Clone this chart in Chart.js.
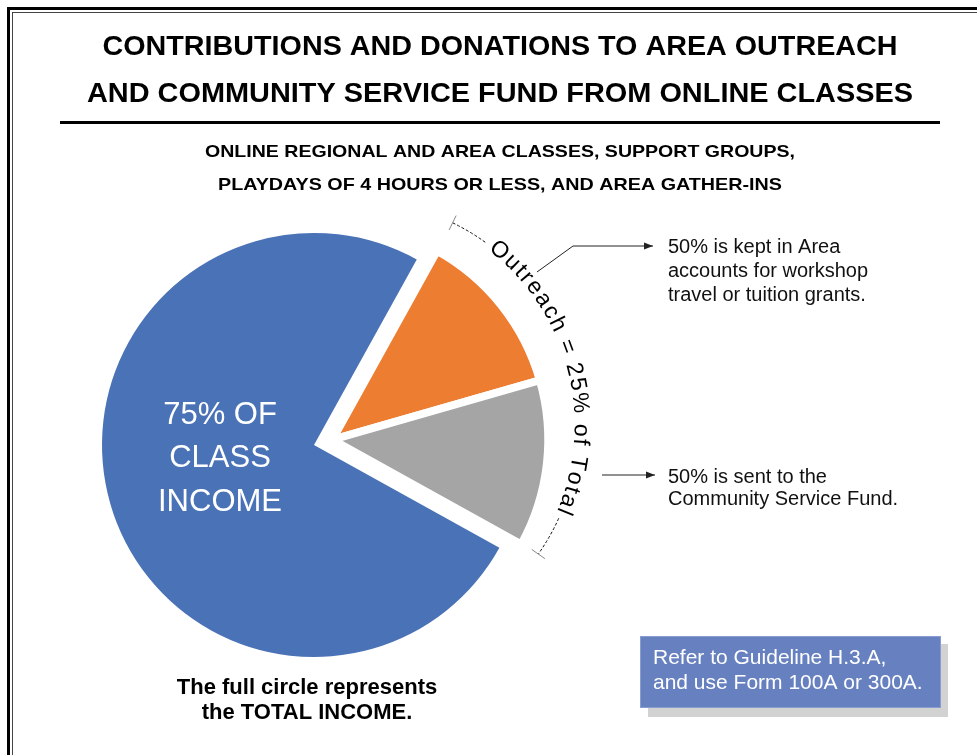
<!DOCTYPE html>
<html>
<head>
<meta charset="utf-8">
<title>Contributions and Donations from Online Classes</title>
<script src="https://cdn.jsdelivr.net/npm/chart.js@4.4.1/dist/chart.umd.min.js"></script>
<style>
  html, body { margin: 0; padding: 0; background: #fff; }
  #wrap { position: relative; width: 977px; height: 755px; }
</style>
</head>
<body>
<div id="wrap"><canvas id="pieChart" width="977" height="755"></canvas></div>
<script>
// slices, clockwise starting at the top edge of the class income slice
const sliceLabels = ['Outreach: kept in Area', 'Outreach: Community Service Fund', 'Class income'];
const sliceValues = [12.5, 12.5, 75];
const sliceColors = ['#ed7d31', '#a5a5a5', '#4a72b6'];
const explodedSlices = [0, 1];

const titleLines = [
    'CONTRIBUTIONS AND DONATIONS TO AREA OUTREACH',
    'AND COMMUNITY SERVICE FUND FROM ONLINE CLASSES'
];
const subtitleLines = [
    'ONLINE REGIONAL AND AREA CLASSES, SUPPORT GROUPS,',
    'PLAYDAYS OF 4 HOURS OR LESS, AND AREA GATHER-INS'
];
const incomeLabel = ['75% OF', 'CLASS', 'INCOME'];
const outreachText = 'Outreach = 25% of Total';
const keptNote = ['50% is kept in Area', 'accounts for workshop', 'travel or tuition grants.'];
const sentNote = ['50% is sent to the', 'Community Service Fund.'];
const footNote = ['The full circle represents', 'the TOTAL INCOME.'];
const boxNote = ['Refer to Guideline H.3.A,', 'and use Form 100A or 300A.'];

const FONT = '"Liberation Sans", Arial, Helvetica, sans-serif';
const EXPLODE = 19;     // px the outreach slices are pulled out
const GAP_BORDER = 8;   // white edge round the outreach slices

// text helper, optionally stretched to a given width
function drawText(ctx, text, x, y, font, color, align, width) {
    ctx.save();
    ctx.font = font;
    ctx.fillStyle = color;
    ctx.textBaseline = 'middle';
    if (width) {
        const w = ctx.measureText(text).width;
        ctx.translate(x, y);
        ctx.scale(width / w, 1);
        ctx.textAlign = 'center';
        ctx.fillText(text, 0, 0);
    } else {
        ctx.textAlign = align || 'center';
        ctx.fillText(text, x, y);
    }
    ctx.restore();
}

// degrees clockwise from top -> canvas radians
function rad(deg) {
    return (deg - 90) * Math.PI / 180;
}

function drawArcText(ctx, text, cx, cy, r, a0, a1) {
    ctx.save();
    ctx.font = '23px ' + FONT;
    ctx.fillStyle = '#000';
    ctx.textAlign = 'center';
    ctx.textBaseline = 'middle';
    const chars = [...text];
    const widths = chars.map(ch => ctx.measureText(ch).width);
    const total = widths.reduce((s, w) => s + w, 0);
    const arcLen = (a1 - a0) * Math.PI / 180 * r;
    const gap = (arcLen - total) / (chars.length - 1);
    let pos = a0 * Math.PI / 180 * r;
    chars.forEach((ch, i) => {
        const ang = (pos + widths[i] / 2) / r;
        ctx.save();
        ctx.translate(cx, cy);
        ctx.rotate(ang);
        ctx.fillText(ch, 0, -r);
        ctx.restore();
        pos += widths[i] + gap;
    });
    ctx.restore();
}

function arrow(ctx, pts) {
    ctx.save();
    ctx.strokeStyle = '#222';
    ctx.fillStyle = '#222';
    ctx.lineWidth = 1;
    ctx.beginPath();
    ctx.moveTo(pts[0][0], pts[0][1]);
    for (let i = 1; i < pts.length; i++) ctx.lineTo(pts[i][0], pts[i][1]);
    ctx.stroke();
    const [tx, ty] = pts[pts.length - 1];
    ctx.beginPath();
    ctx.moveTo(tx, ty);
    ctx.lineTo(tx - 9, ty - 3.5);
    ctx.lineTo(tx - 9, ty + 3.5);
    ctx.closePath();
    ctx.fill();
    ctx.restore();
}

// pull the outreach slices out together, along their shared middle
const explodePlugin = {
    id: 'explode',
    afterDatasetsUpdate(chart) {
        const arcs = chart.getDatasetMeta(0).data;
        const first = arcs[explodedSlices[0]];
        const last = arcs[explodedSlices[explodedSlices.length - 1]];
        const mid = (first.startAngle + last.endAngle) / 2;
        explodedSlices.forEach(i => {
            arcs[i].x += Math.cos(mid) * EXPLODE;
            arcs[i].y += Math.sin(mid) * EXPLODE;
            arcs[i].outerRadius += GAP_BORDER / 2; // border eats half its width
        });
    }
};

const annotations = {
    id: 'annotations',
    afterDraw(chart) {
        const ctx = chart.ctx;
        const blue = chart.getDatasetMeta(0).data[2];
        const cx = blue.x, cy = blue.y;

        // page frame
        ctx.save();
        ctx.fillStyle = '#000';
        ctx.fillRect(7, 7, 980, 3);
        ctx.fillRect(7, 7, 3, 760);
        ctx.fillStyle = '#444';
        ctx.fillRect(12, 12, 980, 1);
        ctx.fillRect(12, 12, 1, 760);
        // rule under the title
        ctx.fillStyle = '#000';
        ctx.fillRect(60, 121, 880, 3);
        ctx.restore();

        drawText(ctx, titleLines[0], 500, 48, 'bold 27px ' + FONT, '#000', 'center', 795);
        drawText(ctx, titleLines[1], 500, 95, 'bold 27px ' + FONT, '#000', 'center', 826);
        drawText(ctx, subtitleLines[0], 500, 152, 'bold 17px ' + FONT, '#000', 'center', 590);
        drawText(ctx, subtitleLines[1], 500, 185, 'bold 17px ' + FONT, '#000', 'center', 564);

        incomeLabel.forEach((t, i) => {
            drawText(ctx, t, 220, 415 + i * 43.5, '31px ' + FONT, '#fff', 'center');
        });

        // curved label with its dashed bracket
        const bx = cx + 40, by = cy - 20, br = 225;
        drawArcText(ctx, outreachText, bx, by, 227, 37.5, 113);
        ctx.save();
        ctx.strokeStyle = '#111';
        ctx.lineWidth = 1;
        ctx.setLineDash([3, 2]);
        ctx.beginPath();
        ctx.arc(bx, by, br, rad(26), rad(36));
        ctx.stroke();
        ctx.beginPath();
        ctx.arc(bx, by, br, rad(114.5), rad(125));
        ctx.stroke();
        ctx.setLineDash([]);
        ctx.strokeStyle = '#888';
        [26, 125].forEach(a => {
            const t = rad(a);
            ctx.beginPath();
            ctx.moveTo(bx + Math.cos(t) * (br - 8), by + Math.sin(t) * (br - 8));
            ctx.lineTo(bx + Math.cos(t) * (br + 8), by + Math.sin(t) * (br + 8));
            ctx.stroke();
        });
        ctx.restore();

        arrow(ctx, [[537, 272], [573, 246], [653, 246]]);
        arrow(ctx, [[602, 475], [655, 475]]);

        keptNote.forEach((t, i) => drawText(ctx, t, 668, 247 + i * 24, '20px ' + FONT, '#111', 'left'));
        sentNote.forEach((t, i) => drawText(ctx, t, 668, 477 + i * 22, '20px ' + FONT, '#111', 'left'));

        footNote.forEach((t, i) => drawText(ctx, t, 307, 688 + i * 25, 'bold 22px ' + FONT, '#000', 'center'));

        // reference box with a drop shadow
        ctx.save();
        ctx.fillStyle = '#d2d2d2';
        ctx.fillRect(648, 644, 300, 73);
        ctx.fillStyle = '#6780c0';
        ctx.fillRect(640, 636, 301, 72);
        ctx.strokeStyle = '#8a9dd0';
        ctx.strokeRect(640.5, 636.5, 300, 71);
        ctx.restore();
        boxNote.forEach((t, i) => drawText(ctx, t, 653, 658 + i * 25, '21px ' + FONT, '#fff', 'left'));
    }
};

new Chart(document.getElementById('pieChart'), {
    type: 'pie',
    data: {
        labels: sliceLabels,
        datasets: [{
            data: sliceValues,
            backgroundColor: sliceColors,
            borderColor: '#ffffff',
            borderWidth: [GAP_BORDER, GAP_BORDER, 0],
            radius: 212
        }]
    },
    options: {
        responsive: false,
        devicePixelRatio: 1,
        animation: false,
        events: [],
        rotation: 29,
        layout: { padding: { left: 102, right: 451, top: 233, bottom: 98 } },
        plugins: {
            legend: { display: false },
            tooltip: { enabled: false },
            title: { display: false }
        }
    },
    plugins: [explodePlugin, annotations]
});
</script>
</body>
</html>
